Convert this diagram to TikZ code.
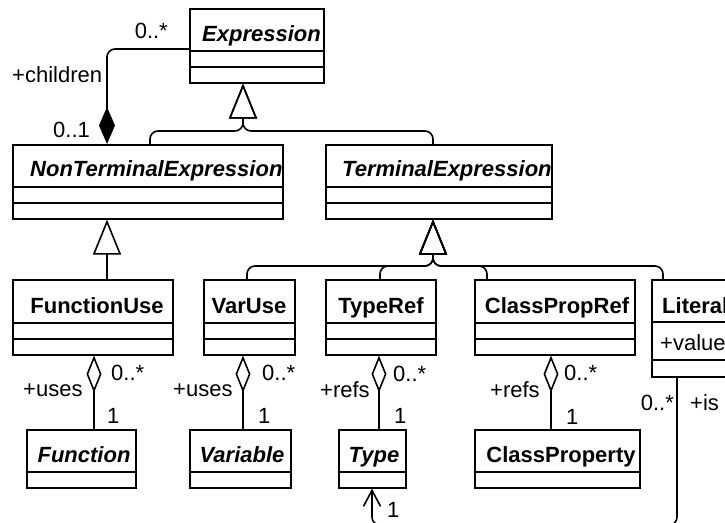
\documentclass[tikz,border=0pt]{standalone}
\usepackage{fontspec}
\setmainfont{Liberation Sans}
\usetikzlibrary{arrows.meta,calc}

\tikzset{
  cls/.style={draw, line width=1.6pt, inner sep=0pt, anchor=north west},
  sep/.style={line width=1.6pt},
  ttl/.style={inner sep=0pt, anchor=base, font=\bfseries},
  attl/.style={inner sep=0pt, anchor=base west, font=\bfseries\itshape},
  lbl/.style={inner sep=0pt, anchor=base west},
  conn/.style={line width=1.6pt, rounded corners=8pt},
  gen/.style={conn, -{Triangle[open, length=35pt, width=28pt, line width=1.6pt]}},
  comp/.style={conn, -{Diamond[length=37pt, width=16pt]}},
  agg/.style={conn, {Diamond[open, length=37pt, width=15pt, line width=1.6pt]}-},
  assoc/.style={conn, -{Straight Barb[length=16pt, width=17pt, line width=1.6pt]}},
}

% class box: name, x, y, width, height
\newcommand\classbox[5]{%
  \node[cls, minimum width=#4pt, minimum height=#5pt] (#1) at (#2,#3) {};}
% compartment separator inside a box at height y
\newcommand\compline[2]{%
  \draw[sep] (#1.west |- 0,#2) -- (#1.east |- 0,#2);}

\begin{document}
\begin{tikzpicture}[x=1pt, y=-1pt]
\useasboundingbox (0,0) rectangle (725,522);
\fontsize{22}{26}\selectfont

% ---- classes ----
\classbox{expr}{189}{8}{134}{74}
\compline{expr}{51}\compline{expr}{67}
\node[attl] at (202,41) {Expression};

\classbox{nte}{12}{144}{270}{74}
\compline{nte}{187}\compline{nte}{203}
\begin{scope}
  \clip (nte.south west) rectangle (nte.north east);
  \node[attl] at (30,176) {NonTerminalExpression};
\end{scope}

\classbox{te}{325}{144}{226}{74}
\compline{te}{187}\compline{te}{203}
\begin{scope}
  \clip (te.south west) rectangle (te.north east);
  \node[attl] at (342,176) {TerminalExpression};
\end{scope}

\classbox{fuse}{12}{279}{160}{75}
\compline{fuse}{323}\compline{fuse}{339}
\node[ttl] at (97,313) {FunctionUse};

\classbox{vuse}{203}{279}{91}{75}
\compline{vuse}{323}\compline{vuse}{339}
\node[ttl] at (249,313) {VarUse};

\classbox{tref}{325}{279}{110}{75}
\compline{tref}{323}\compline{tref}{339}
\node[ttl] at (381,313) {TypeRef};

\classbox{cpref}{474}{279}{160}{75}
\compline{cpref}{323}\compline{cpref}{339}
\node[ttl] at (557,313) {ClassPropRef};

\classbox{lit}{651}{279}{120}{97}
\compline{lit}{322}\compline{lit}{360}
\node[ttl, anchor=base west] at (662,313) {Literal};
\node[lbl] at (660,350) {+value};

\classbox{func}{26}{429}{109}{58}
\compline{func}{472}
\node[ttl, font=\bfseries\itshape] at (84,462) {Function};

\classbox{var}{189}{429}{101}{58}
\compline{var}{472}
\node[ttl, font=\bfseries\itshape] at (242,462) {Variable};

\classbox{type}{338}{429}{67}{58}
\compline{type}{472}
\node[ttl, font=\bfseries\itshape] at (374,462) {Type};

\classbox{cprop}{474}{429}{165}{58}
\compline{cprop}{472}
\node[ttl] at (561,462) {ClassProperty};

% ---- generalizations ----
\draw[gen] ($(nte.north west)+(138,0)$) -- ++(0,-13) -| ($(expr.south west)+(54,0)$);
\draw[gen] ($(te.north west)+(108,0)$) -- ++(0,-13) -| ($(expr.south west)+(54,0)$);
\draw[gen] ($(fuse.north west)+(95,0)$) -- ($(nte.south west)+(95,0)$);
\draw[gen] ($(vuse.north west)+(44,0)$) -- ++(0,-13) -| ($(te.south west)+(108,0)$);
\draw[gen] ($(tref.north west)+(55,0)$) -- ++(0,-13) -| ($(te.south west)+(108,0)$);
\draw[gen] ($(cpref.north west)+(13,0)$) -- ++(0,-13) -| ($(te.south west)+(108,0)$);
\draw[gen] ($(lit.north west)+(12,0)$) -- ++(0,-13) -| ($(te.south west)+(108,0)$);

% ---- composition: children ----
\draw[comp] ($(expr.north west)+(0,41)$) -| ($(nte.north west)+(95,0)$);
\node[lbl, anchor=base east] at (168,38) {0..*};
\node[lbl] at (12,82) {+children};
\node[lbl] at (53,137) {0..1};

% ---- aggregations ----
\draw[agg] ($(fuse.south west)+(82,0)$) -- ($(func.north west)+(68,0)$);
\node[lbl] at (23,396) {+uses};
\node[lbl] at (111,380) {0..*};
\node[lbl] at (107,423) {1};

\draw[agg] ($(vuse.south west)+(40,0)$) -- ($(var.north west)+(54,0)$);
\node[lbl] at (173,396) {+uses};
\node[lbl] at (262,380) {0..*};
\node[lbl] at (258,423) {1};

\draw[agg] ($(tref.south west)+(54,0)$) -- ($(type.north west)+(41,0)$);
\node[lbl] at (320,397) {+refs};
\node[lbl] at (393,381) {0..*};
\node[lbl] at (394,423) {1};

\draw[agg] ($(cpref.south west)+(77,0)$) -- ($(cprop.north west)+(77,0)$);
\node[lbl] at (490,397) {+refs};
\node[lbl] at (564,380) {0..*};
\node[lbl] at (566,424) {1};

% ---- association: Literal is a Type (runs along the lower edge) ----
\draw[assoc] ($(lit.south west)+(26,0)$) -- ++(0,147.5) -| ($(type.south west)+(34,0)$);
\node[lbl, anchor=base east] at (674,410) {0..*};
\node[lbl] at (690,410) {+is};
\node[lbl] at (387,517) {1};
\end{tikzpicture}
\end{document}
